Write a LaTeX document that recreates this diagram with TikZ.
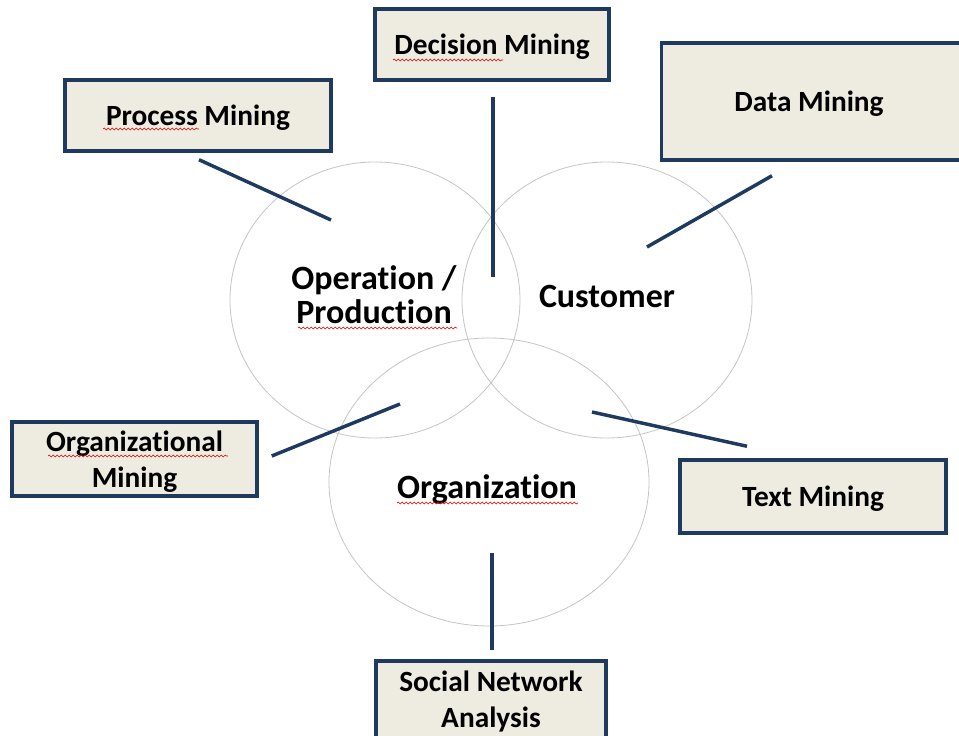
\documentclass[tikz,border=0pt]{standalone}
\usepackage{fontspec}
\setmainfont[Ligatures = NoCommon]{Carlito}
\usepackage{xcolor}
\usepackage{tikz}
\usetikzlibrary{shapes.geometric}
\usetikzlibrary{decorations.pathmorphing}

\definecolor{boxline}{HTML}{1F3A5F}
\definecolor{boxfill}{HTML}{EEECE1}
\definecolor{ringgray}{HTML}{C4C4C4}

\tikzset{
    minebox/.style = {draw = boxline, fill = boxfill, line width = 2.6pt, align = center,
                      inner sep = 0pt, text depth = 0pt, font = \fontsize{22}{27}\selectfont\bfseries},
    area/.style = {ellipse, draw = ringgray, line width = 0.6pt, inner sep = 0pt},
    arealabel/.style = {align = center, inner sep = 0pt, font = \fontsize{25.5}{25.5}\selectfont\bfseries},
    link/.style = {draw = boxline, line width = 2.6pt},
    spell/.style = {draw = red!85!black, line width = 0.45pt, decorate,
                    decoration = {snake, amplitude = 0.7pt, segment length = 3pt}}
}

\begin{document}
\begin{tikzpicture}[x = 0.75pt, y = -0.75pt]
                    \useasboundingbox (0, 0) rectangle (959, 735);

                    \node[area, minimum width = 217.5pt, minimum height = 207pt] (oparea) at (375, 300) {};
                    \node[area, minimum width = 217.5pt, minimum height = 207pt] (cuarea) at (607, 300) {};
                    \node[area, minimum width = 240pt, minimum height = 216pt] (orgarea) at (489, 482) {};

                    \node[arealabel] (oplabel) at (374, 295) {Operation /\\Production};
                    \node[arealabel] (culabel) at (607, 296) {Customer};
                    \node[arealabel] (orglabel) at (487, 489) {Organization};

                    \node[minebox, minimum width = 199.5pt, minimum height = 53.25pt] (procmine) at (198, 115.5) {Process Mining};
                    \node[minebox, minimum width = 175.5pt, minimum height = 53.25pt] (decmine) at (492, 44.5) {Decision Mining};
                    \node[minebox, minimum width = 227pt, minimum height = 87.75pt] (datamine) at (813, 101.5) {\hspace*{-6pt}Data Mining};
                    \node[minebox, minimum width = 183.75pt, minimum height = 55.5pt] (orgmine) at (134.5, 459) {Organizational\\Mining};
                    \node[minebox, minimum width = 199.5pt, minimum height = 54.75pt] (textmine) at (813, 496.5) {Text Mining};
                    \node[minebox, minimum width = 172.5pt, minimum height = 63pt, text depth = 6pt] (snamine) at (491, 703) {Social Network\\Analysis};

                    \coordinate (procend) at (331, 220);
                    \coordinate (decend) at (493, 277);
                    \coordinate (dataend) at (647, 247);
                    \coordinate (orgend) at (400, 404);
                    \coordinate (textend) at (592, 412);
                    \coordinate (snaend) at (492, 553);

                    \draw[link] ([shift = {(1, 7)}]procmine.south) -- (procend);
                    \draw[link] ([shift = {(1, 15)}]decmine.south) -- (decend);
                    \draw[link] ([shift = {(-41, 14)}]datamine.south) -- (dataend);
                    \draw[link] ([shift = {(13, -3)}]orgmine.east) -- (orgend);
                    \draw[link] ([shift = {(-66, -12)}]textmine.north) -- (textend);
                    \draw[link] ([shift = {(1, -9)}]snamine.north) -- (snaend);

                    % spelling marks under some words
                    \draw[spell] (103, 129) -- (199, 129);
                    \draw[spell] (393, 60) -- (503, 60);
                    \draw[spell] (298, 328) -- (457, 328);
                    \draw[spell] (48, 456) -- (228, 456);
                    \draw[spell] (397, 503) -- (578, 503);
                \end{tikzpicture}
\end{document}
